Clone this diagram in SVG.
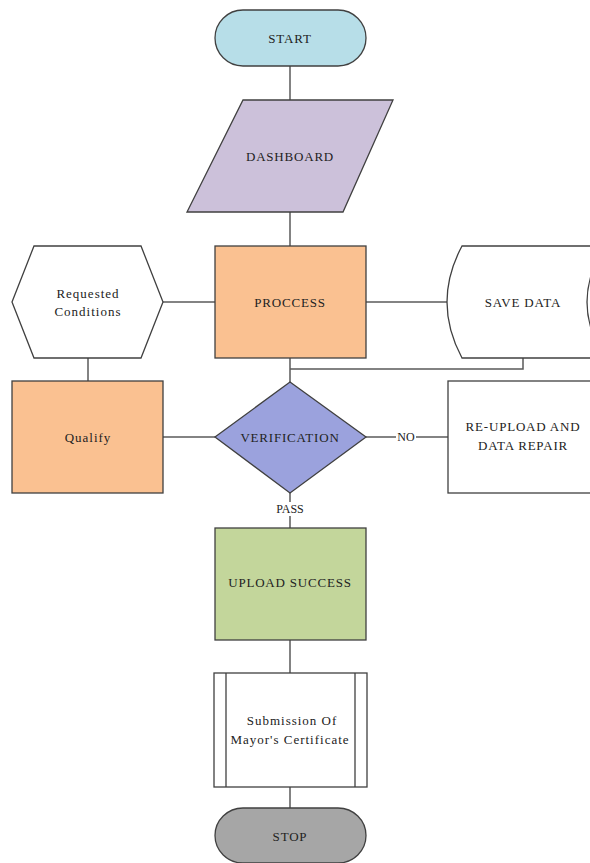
<svg xmlns="http://www.w3.org/2000/svg" width="590" height="863" viewBox="0 0 590 863">
<style>
.n{stroke:#404040;stroke-width:1.3}
.c{stroke:#5a5a5a;stroke-width:1.5;fill:none}
text{font-family:"Liberation Serif","Times New Roman",serif;fill:#222;text-anchor:middle;dominant-baseline:central}
.b{font-size:13px;letter-spacing:0.8px}
.s{font-size:13px;letter-spacing:1px}
.l{font-size:12px}
</style>
<rect width="590" height="863" fill="#fff"/>
<g id="connectors">
<line class="c" x1="290" y1="66" x2="290" y2="100"/>
<line class="c" x1="290" y1="212" x2="290" y2="246"/>
<line class="c" x1="163" y1="302" x2="215" y2="302"/>
<line class="c" x1="366" y1="302" x2="447" y2="302"/>
<line class="c" x1="88" y1="358" x2="88" y2="381"/>
<polyline class="c" points="523,358 523,369 290,369"/>
<line class="c" x1="290" y1="358" x2="290" y2="382"/>
<line class="c" x1="163" y1="437" x2="215" y2="437"/>
<line class="c" x1="366" y1="437" x2="448" y2="437"/>
<line class="c" x1="290" y1="493" x2="290" y2="528"/>
<line class="c" x1="290" y1="640" x2="290" y2="673"/>
<line class="c" x1="290" y1="787" x2="290" y2="808"/>
<rect x="396" y="430" width="20" height="14" fill="#fff"/>
<text class="l" x="406" y="437">NO</text>
<rect x="272" y="502" width="36" height="14" fill="#fff"/>
<text class="l" x="290" y="509">PASS</text>
</g>
<g id="start">
<rect class="n" x="215" y="10" width="151" height="56" rx="28" fill="#b7dee8"/>
<text class="b" x="290" y="38">START</text>
</g>
<g id="dashboard">
<polygon class="n" points="243,100 393,100 343,212 187,212" fill="#ccc1da"/>
<text class="b" x="290" y="156">DASHBOARD</text>
</g>
<g id="proccess">
<rect class="n" x="215" y="246" width="151" height="112" fill="#fac191"/>
<text class="b" x="290" y="302">PROCCESS</text>
</g>
<g id="requested">
<polygon class="n" points="12,302 34,246 141,246 163,302 141,358 34,358" fill="#fff"/>
<text class="s" x="88" y="293">Requested</text>
<text class="s" x="88" y="311">Conditions</text>
</g>
<g id="savedata">
<path class="n" d="M462,246 L605,246 Q569,302 605,358 L462,358 Q432,302 462,246 Z" fill="#fff"/>
<text class="b" x="523" y="302">SAVE DATA</text>
</g>
<g id="qualify">
<rect class="n" x="12" y="381" width="151" height="112" fill="#fac191"/>
<text class="s" x="88" y="437">Qualify</text>
</g>
<g id="verification">
<polygon class="n" points="290,382 366,437 290,493 215,437" fill="#9ba2dd"/>
<text class="b" x="290" y="437">VERIFICATION</text>
</g>
<g id="reupload">
<rect class="n" x="448" y="381" width="160" height="112" fill="#fff"/>
<text class="b" x="523" y="426">RE-UPLOAD AND</text>
<text class="b" x="523" y="445">DATA REPAIR</text>
</g>
<g id="upload">
<rect class="n" x="215" y="528" width="151" height="112" fill="#c3d69b"/>
<text class="b" x="290" y="582">UPLOAD SUCCESS</text>
</g>
<g id="submission">
<rect class="n" x="214" y="673" width="153" height="114" fill="#fff"/>
<line class="n" x1="226" y1="673" x2="226" y2="787"/>
<line class="n" x1="355" y1="673" x2="355" y2="787"/>
<text class="s" x="292" y="720">Submission Of</text>
<text class="s" x="290" y="739">Mayor's Certificate</text>
</g>
<g id="stop">
<rect class="n" x="215" y="808" width="151" height="55" rx="28" fill="#a6a6a6"/>
<text class="b" x="290" y="836">STOP</text>
</g>
</svg>
